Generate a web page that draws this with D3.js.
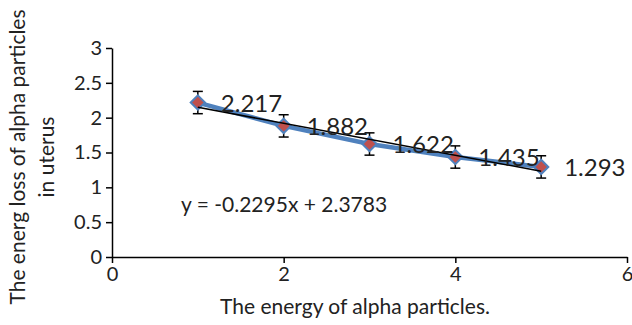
<!DOCTYPE html>
<html>
<head>
<meta charset="utf-8">
<script src="https://cdn.jsdelivr.net/npm/d3@7"></script>
<style>
  body { margin: 0; background: #fff; }
  text { font-family: Lato, "Open Sans", sans-serif; fill: #222; }
</style>
</head>
<body>
<div id="wrapper"></div>
<script>
let energy = [1, 2, 3, 4, 5];
let energyLoss = [2.217, 1.882, 1.622, 1.435, 1.293];
let errors = [0.16, 0.16, 0.16, 0.16, 0.16];
let slope = -0.2295;
let intercept = 2.3783;
let xTicks = [0, 2, 4, 6];
let yTicks = [0, 0.5, 1, 1.5, 2, 2.5, 3];

function drawChart() {
  const width = 632;
  const height = 325;
  let margin = { top: 48, right: 5, bottom: 68, left: 112 };

  let svg = d3
    .select("#wrapper")
    .append("svg")
    .attr("width", width)
    .attr("height", height);

  let x = d3.scaleLinear().domain([0, 6]).range([margin.left, width - margin.right]);
  let y = d3.scaleLinear().domain([0, 3]).range([height - margin.bottom, margin.top]);

  let xAxis = svg
    .append("g")
    .attr("transform", `translate(0, ${y(0)})`)
    .call(d3.axisBottom(x).tickValues(xTicks).tickFormat(d3.format("d")).tickSize(6).tickPadding(4).tickSizeOuter(0));
  xAxis.selectAll("text").attr("font-size", 20).attr("font-family", "Lato, sans-serif").attr("fill", "#222");

  let yAxis = svg
    .append("g")
    .attr("transform", `translate(${x(0)}, 0)`)
    .call(d3.axisLeft(y).tickValues(yTicks).tickFormat(d3.format("")).tickSize(6).tickPadding(4).tickSizeOuter(0));
  yAxis.selectAll("text").attr("font-size", 20).attr("font-family", "Lato, sans-serif").attr("fill", "#222");

  svg.selectAll(".domain, .tick line").attr("stroke", "#000").attr("stroke-width", 1.5);

  let points = energy.map((e, i) => ({ x: e, y: energyLoss[i], err: errors[i] }));

  // data line
  svg
    .append("path")
    .datum(points)
    .attr("fill", "none")
    .attr("stroke", "#4f81bd")
    .attr("stroke-width", 4.5)
    .attr("d", d3.line().x(d => x(d.x)).y(d => y(d.y)));

  // error bars
  let bars = svg.append("g").selectAll("g").data(points).join("g");
  bars
    .append("line")
    .attr("x1", d => x(d.x))
    .attr("x2", d => x(d.x))
    .attr("y1", d => y(d.y + d.err))
    .attr("y2", d => y(d.y - d.err))
    .attr("stroke", "#000")
    .attr("stroke-width", 1.5);
  bars
    .selectAll(".cap")
    .data(d => [d.y + d.err, d.y - d.err].map(v => ({ x: d.x, v })))
    .join("line")
    .attr("x1", d => x(d.x) - 5)
    .attr("x2", d => x(d.x) + 5)
    .attr("y1", d => y(d.v))
    .attr("y2", d => y(d.v))
    .attr("stroke", "#000")
    .attr("stroke-width", 1.5);

  // markers
  svg
    .append("g")
    .selectAll("path")
    .data(points)
    .join("path")
    .attr("transform", d => `translate(${x(d.x)}, ${y(d.y)})`)
    .attr("d", d3.symbol().type(d3.symbolDiamond2).size(130))
    .attr("fill", "#c0504d")
    .attr("stroke", "#4f81bd")
    .attr("stroke-width", 2);

  // trendline
  svg
    .append("line")
    .attr("x1", x(1))
    .attr("y1", y(slope * 1 + intercept))
    .attr("x2", x(5))
    .attr("y2", y(slope * 5 + intercept))
    .attr("stroke", "#000")
    .attr("stroke-width", 1.5);

  // data labels
  svg
    .append("g")
    .selectAll("text")
    .data(points)
    .join("text")
    .attr("x", d => x(d.x) + 23)
    .attr("y", d => y(d.y) + 9)
    .attr("font-size", 24)
    .text(d => d3.format(".3f")(d.y));

  svg
    .append("text")
    .attr("x", 181)
    .attr("y", 212)
    .attr("font-size", 21)
    .text("y = -0.2295x + 2.3783");

  svg
    .append("text")
    .attr("x", 355)
    .attr("y", 314)
    .attr("text-anchor", "middle")
    .attr("font-size", 21)
    .text("The energy of alpha particles.");

  let yTitle = svg
    .append("text")
    .attr("transform", `translate(0, 157) rotate(-90)`)
    .attr("text-anchor", "middle")
    .attr("font-size", 21);
  yTitle.append("tspan").attr("x", 0).attr("y", 25).text("The energ loss of alpha particles");
  yTitle.append("tspan").attr("x", 0).attr("y", 54).text("in uterus");
}
drawChart();
</script>
</body>
</html>
